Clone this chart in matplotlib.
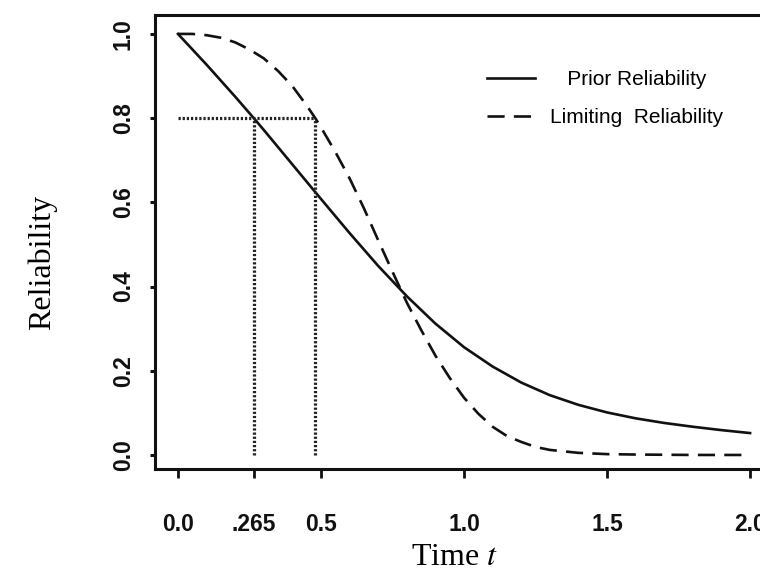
import matplotlib.pyplot as plt
import numpy as np

# values
t_prior = [0.0, 0.1, 0.2, 0.265, 0.3, 0.4, 0.5, 0.6, 0.7, 0.8, 0.9, 1.0,
           1.1, 1.2, 1.3, 1.4, 1.5, 1.6, 1.7, 1.8, 1.9, 2.0]
r_prior = [1.0, 0.927, 0.851, 0.800, 0.772, 0.690, 0.608, 0.527, 0.449, 0.377, 0.312, 0.256,
           0.210, 0.172, 0.142, 0.119, 0.101, 0.087, 0.076, 0.067, 0.059, 0.052]

t_limit = [0.0, 0.05, 0.1, 0.15, 0.2, 0.25, 0.3, 0.35, 0.4, 0.45, 0.48, 0.5, 0.55,
           0.6, 0.65, 0.7, 0.75, 0.8, 0.85, 0.9, 0.95, 1.0, 1.05, 1.1, 1.15, 1.2,
           1.25, 1.3, 1.4, 1.5, 1.6, 1.8, 2.0]
r_limit = [1.0, 1.0, 0.997, 0.991, 0.980, 0.963, 0.942, 0.912, 0.876, 0.830, 0.800, 0.778, 0.720,
           0.657, 0.586, 0.510, 0.435, 0.362, 0.297, 0.236, 0.183, 0.136, 0.098, 0.067, 0.045, 0.031,
           0.019, 0.012, 0.005, 0.002, 0.001, 0.0, 0.0]

guide_t = [0.265, 0.48]
guide_r = 0.8

xticks = [0.0, 0.265, 0.5, 1.0, 1.5, 2.0]
xtick_labels = ['0.0', '.265', '0.5', '1.0', '1.5', '2.0']
yticks = [0.0, 0.2, 0.4, 0.6, 0.8, 1.0]
ytick_labels = ['0.0', '0.2', '0.4', '0.6', '0.8', '1.0']

plt.rcParams['mathtext.fontset'] = 'stix'

fig = plt.figure(figsize=(7.6, 5.72), dpi=100)
ax = fig.add_axes([0.2039, 0.1801, 0.8105, 0.7937])

ax.plot(t_prior, r_prior, color='#111111', lw=1.9, label='   Prior Reliability')
ax.plot(t_limit, r_limit, color='#111111', lw=1.9, linestyle=(0, (6.5, 3.5)),
        label='Limiting  Reliability')

# dotted guides at R = 0.8
ax.hlines(guide_r, 0, max(guide_t), colors='#222222', lw=2.3, linestyles=(0, (0.7, 0.6)))
ax.vlines(guide_t, 0, guide_r, colors='#222222', lw=2.3, linestyles=(0, (0.7, 0.6)))

ax.set_xlim(-0.0804, 2.073)
ax.set_ylim(-0.0333, 1.045)

for s in ax.spines.values():
    s.set_linewidth(2.2)
    s.set_color('#111111')

ax.set_xticks(xticks)
ax.set_xticklabels(xtick_labels, family='Liberation Sans',
                   fontweight='bold', fontsize=16.5)
ax.set_yticks(yticks)
ax.set_yticklabels(ytick_labels, family='Liberation Sans', fontweight='bold',
                   fontsize=16.5, rotation=90, va='center')
ax.tick_params(axis='x', length=6.5, width=2, pad=25, colors='#111111')
ax.tick_params(axis='y', length=3.5, width=2.2, pad=11, colors='#111111')

ax.set_xlabel('Time $t$', family='Liberation Serif', fontsize=23)
ax.xaxis.set_label_coords(0.487, -0.162)
ax.set_ylabel('Reliability', family='Liberation Serif', fontsize=23)
ax.yaxis.set_label_coords(-0.159, 0.454)

leg = ax.legend(loc='upper left', bbox_to_anchor=(0.509, 0.92), frameon=False,
                prop={'family': 'Liberation Sans', 'size': 15},
                handlelength=2.3, handletextpad=0.7, labelspacing=0.9)

fig.savefig('out.png', dpi=100)
